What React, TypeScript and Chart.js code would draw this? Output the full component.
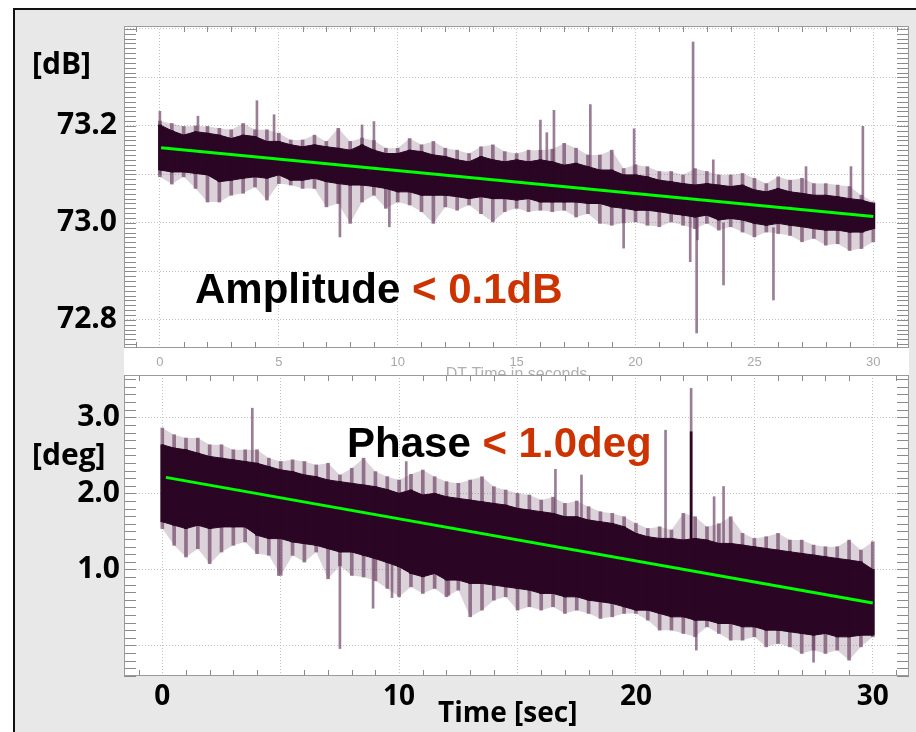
import React, { useEffect, useRef } from 'react';
import { Chart, registerables } from 'chart.js';

Chart.register(...registerables);

// ---------- shared time bins (seconds) ----------
const timeBins = [
  0, 0.5, 1, 1.5, 2, 2.5, 3, 3.5, 4, 4.5, 5, 5.5, 6, 6.5, 7, 7.5, 8, 8.5, 9, 9.5,
  10, 10.5, 11, 11.5, 12, 12.5, 13, 13.5, 14, 14.5, 15, 15.5, 16, 16.5, 17, 17.5, 18, 18.5, 19, 19.5,
  20, 20.5, 21, 21.5, 22, 22.5, 23, 23.5, 24, 24.5, 25, 25.5, 26, 26.5, 27, 27.5, 28, 28.5, 29, 29.5, 30,
];

// ---------- Amplitude [dB] ----------
const ampLightHi = [
  73.210, 73.205, 73.199, 73.200, 73.199, 73.195, 73.192, 73.205, 73.192, 73.192,
  73.185, 73.171, 73.171, 73.181, 73.168, 73.195, 73.168, 73.175, 73.170, 73.154,
  73.154, 73.174, 73.161, 73.168, 73.154, 73.150, 73.143, 73.157, 73.161, 73.147,
  73.143, 73.150, 73.150, 73.152, 73.164, 73.154, 73.140, 73.140, 73.150, 73.112,
  73.120, 73.116, 73.106, 73.106, 73.099, 73.112, 73.106, 73.099, 73.099, 73.102,
  73.092, 73.081, 73.095, 73.088, 73.092, 73.081, 73.081, 73.078, 73.075, 73.057, 73.043,
];
const ampCoreHi = [
  73.202, 73.190, 73.181, 73.188, 73.185, 73.181, 73.174, 73.181, 73.178, 73.168,
  73.168, 73.161, 73.157, 73.161, 73.157, 73.154, 73.150, 73.161, 73.150, 73.143,
  73.143, 73.150, 73.147, 73.140, 73.137, 73.130, 73.126, 73.137, 73.130, 73.126,
  73.130, 73.126, 73.130, 73.126, 73.119, 73.123, 73.116, 73.109, 73.109, 73.099,
  73.099, 73.095, 73.088, 73.085, 73.081, 73.078, 73.081, 73.078, 73.075, 73.078,
  73.068, 73.064, 73.071, 73.064, 73.061, 73.057, 73.057, 73.054, 73.050, 73.047, 73.040,
];
const ampCoreLo = [
  73.109, 73.105, 73.105, 73.102, 73.099, 73.085, 73.088, 73.092, 73.095, 73.092,
  73.099, 73.088, 73.088, 73.092, 73.085, 73.081, 73.078, 73.078, 73.075, 73.071,
  73.064, 73.064, 73.057, 73.057, 73.057, 73.054, 73.050, 73.054, 73.050, 73.050,
  73.047, 73.050, 73.043, 73.043, 73.043, 73.043, 73.040, 73.040, 73.033, 73.030,
  73.026, 73.026, 73.023, 73.019, 73.016, 73.012, 73.016, 73.006, 73.009, 73.006,
  72.999, 72.995, 72.999, 72.995, 72.992, 72.988, 72.985, 72.985, 72.981, 72.981, 72.988,
];
const ampLightLo = [
  73.095, 73.080, 73.095, 73.071, 73.043, 73.043, 73.057, 73.061, 73.074, 73.047,
  73.081, 73.078, 73.071, 73.071, 73.033, 73.040, 72.999, 73.043, 73.057, 73.030,
  73.043, 73.037, 73.023, 72.999, 73.033, 73.026, 73.037, 73.019, 73.002, 73.023,
  73.030, 73.023, 73.026, 73.023, 73.026, 73.012, 73.019, 72.999, 72.995, 73.000,
  73.002, 72.995, 72.992, 73.002, 72.995, 72.988, 72.999, 72.985, 72.992, 72.981,
  72.971, 72.981, 72.978, 72.974, 72.961, 72.968, 72.954, 72.957, 72.943, 72.947, 72.961,
];
const ampSpikeT = [0.0, 1.6, 4.08, 4.8, 7.57, 8.5, 9.0, 9.65, 16.0, 16.27, 16.57, 18.1, 19.5, 19.94, 22.3, 22.42, 22.57, 22.6, 23.27, 23.7, 25.8, 27.17, 29.06, 29.56];
const ampSpikeLo = [73.10, 73.15, 73.12, 73.12, 72.971, 73.12, 73.10, 72.992, 73.10, 73.10, 73.10, 73.10, 72.948, 73.08, 72.920, 73.06, 72.773, 72.965, 73.05, 72.872, 72.841, 73.04, 72.98, 72.98];
const ampSpikeHi = [73.230, 73.220, 73.252, 73.223, 73.080, 73.202, 73.209, 73.070, 73.212, 73.186, 73.232, 73.244, 73.030, 73.194, 73.030, 73.373, 73.040, 73.020, 73.130, 73.000, 72.990, 73.116, 73.116, 73.199];
const ampDarkSpikeT: number[] = [];
const ampDarkSpikeLo: number[] = [];
const ampDarkSpikeHi: number[] = [];
const ampFitT = [0.05, 30];
const ampFit = [73.155, 73.013];
const ampLabelled = [72.8, 73.0, 73.2];

// ---------- Phase [deg] ----------
const phLightHi = [
  2.859, 2.771, 2.727, 2.727, 2.639, 2.639, 2.573, 2.573, 2.573, 2.463,
  2.419, 2.441, 2.419, 2.374, 2.396, 2.242, 2.330, 2.463, 2.286, 2.220,
  2.175, 2.250, 2.307, 2.219, 2.154, 2.132, 2.175, 2.219, 2.088, 2.044,
  2.000, 1.978, 1.912, 1.950, 1.868, 1.900, 1.825, 1.759, 1.737, 1.693,
  1.605, 1.539, 1.561, 1.518, 1.737, 1.693, 1.561, 1.600, 1.693, 1.474,
  1.408, 1.430, 1.474, 1.386, 1.386, 1.320, 1.298, 1.298, 1.386, 1.254, 1.364,
];
const phCoreHi = [
  2.639, 2.595, 2.573, 2.529, 2.485, 2.463, 2.441, 2.419, 2.396, 2.352,
  2.308, 2.286, 2.242, 2.220, 2.176, 2.154, 2.132, 2.110, 2.088, 2.050,
  2.000, 2.044, 1.978, 2.000, 1.956, 1.934, 1.912, 1.890, 1.868, 1.846,
  1.803, 1.781, 1.759, 1.737, 1.693, 1.693, 1.649, 1.627, 1.605, 1.561,
  1.474, 1.430, 1.408, 1.408, 1.386, 1.408, 1.386, 1.342, 1.342, 1.320,
  1.298, 1.276, 1.254, 1.232, 1.211, 1.189, 1.167, 1.145, 1.123, 1.101, 1.000,
];
const phCoreLo = [
  1.626, 1.581, 1.537, 1.581, 1.537, 1.559, 1.559, 1.559, 1.449, 1.405,
  1.405, 1.361, 1.339, 1.317, 1.273, 1.229, 1.229, 1.185, 1.141, 1.090,
  1.035, 0.947, 0.904, 0.947, 0.860, 0.860, 0.816, 0.816, 0.794, 0.772,
  0.750, 0.728, 0.684, 0.684, 0.640, 0.640, 0.596, 0.575, 0.553, 0.509,
  0.465, 0.465, 0.421, 0.377, 0.377, 0.333, 0.333, 0.289, 0.289, 0.246,
  0.246, 0.202, 0.202, 0.180, 0.158, 0.136, 0.158, 0.114, 0.114, 0.136, 0.136,
];
const phLightLo = [
  1.537, 1.317, 1.163, 1.273, 1.075, 1.229, 1.317, 1.361, 1.207, 1.185,
  0.921, 1.185, 1.097, 1.229, 0.877, 1.050, 0.921, 0.900, 0.850, 0.750,
  0.640, 0.772, 0.684, 0.750, 0.640, 0.728, 0.377, 0.465, 0.596, 0.640,
  0.465, 0.509, 0.465, 0.509, 0.421, 0.465, 0.421, 0.355, 0.377, 0.421,
  0.421, 0.333, 0.202, 0.202, 0.158, 0.114, 0.246, 0.158, 0.070, 0.070,
  0.114, -0.018, 0.026, -0.018, -0.105, -0.061, -0.105, -0.061, -0.193, -0.018, 0.114,
];
const phSpikeT = [3.8, 4.9, 7.5, 8.9, 9.7, 10.3, 12.1, 16.6, 17.7, 21.25, 22.33, 22.55, 23.3, 23.7, 27.5];
const phSpikeLo = [2.40, 0.92, -0.04, 0.49, 0.63, 1.90, 0.66, 1.60, 1.60, 1.40, 1.40, -0.06, 1.30, 1.30, -0.22];
const phSpikeHi = [3.12, 1.40, 1.20, 1.20, 1.20, 2.417, 0.90, 2.316, 2.241, 2.83, 3.38, 0.40, 1.956, 2.09, 0.20];
const phDarkSpikeT = [22.33];
const phDarkSpikeLo = [1.40];
const phDarkSpikeHi = [2.81];
const phFitT = [0.15, 30];
const phFit = [2.21, 0.56];
const phLabelled = [1, 2, 3];
const timeLabelled = [0, 10, 20, 30];

// ---------- styling ----------
const DARK = '#2a0624';
const LIGHT = 'rgba(112, 70, 104, 0.7)';
const HAZE = 'rgba(120, 80, 112, 0.26)';
const FIT = '#00ff00';
const GRID = '#c2c2c2';
const LABEL_FONT = '"Open Sans", "Noto Sans", sans-serif';

const bars = (ts: number[], lo: number[], hi: number[]) => ts.map((t, i) => ({ x: t, y: [lo[i], hi[i]] }));
const pts = (ts: number[], v: number[]) => ts.map((t, i) => ({ x: t, y: v[i] }));
const isLabelled = (list: number[], v: number) => list.some((l) => Math.abs(l - v) < 1e-6);

const panelDecor = {
  id: 'panelDecor',
  beforeDraw(chart: any, _a: any, o: any) {
    const { ctx, chartArea: a } = chart;
    ctx.save();
    ctx.fillStyle = '#ffffff';
    const bottom = o.fillToCanvasBottom ? chart.height : a.bottom;
    ctx.fillRect(a.left, a.top, a.right - a.left, bottom - a.top);
    ctx.restore();
  },
  afterDraw(chart: any, _a: any, o: any) {
    const { ctx, chartArea: a, scales } = chart;
    const xs = scales.x;
    const ys = scales.y;
    ctx.save();
    ctx.strokeStyle = '#8a8a8a';
    ctx.lineWidth = 1;
    ctx.beginPath();
    for (let k = Math.ceil(ys.min / o.yStep - 1e-9); k * o.yStep <= ys.max; k++) {
      const py = Math.round(ys.getPixelForValue(k * o.yStep)) + 0.5;
      ctx.moveTo(a.left, py);
      ctx.lineTo(a.left + o.yLen, py);
      ctx.moveTo(a.right, py);
      ctx.lineTo(a.right - o.yLen, py);
    }
    for (let k = Math.ceil(xs.min / o.xStep); k * o.xStep <= xs.max; k++) {
      if (k % 5 === 0) continue;
      const px = Math.round(xs.getPixelForValue(k * o.xStep)) + 0.5;
      ctx.moveTo(px, a.top);
      ctx.lineTo(px, a.top + o.xLen);
      ctx.moveTo(px, a.bottom);
      ctx.lineTo(px, a.bottom - o.xLen);
    }
    ctx.stroke();
    ctx.strokeStyle = '#9a9a9a';
    ctx.strokeRect(a.left + 0.5, a.top + 0.5, a.right - a.left - 1, a.bottom - a.top - 1);
    ctx.restore();
  },
};

function datasets(p: any) {
  const ds: any[] = [
    { type: 'line', data: pts(timeBins, p.lightHi), borderWidth: 0, pointRadius: 0, fill: false, order: 9 },
    { type: 'line', data: pts(timeBins, p.lightLo), borderWidth: 0, pointRadius: 0, fill: '-1', backgroundColor: HAZE, order: 8 },
    { type: 'bar', data: bars(timeBins, p.lightLo, p.lightHi), backgroundColor: LIGHT, barThickness: 3, grouped: false, order: 6, borderWidth: 0 },
    { type: 'bar', data: bars(p.spikeT, p.spikeLo, p.spikeHi), backgroundColor: LIGHT, barThickness: 2, grouped: false, order: 5, borderWidth: 0 },
    { type: 'line', data: pts(timeBins, p.coreHi), borderColor: DARK, borderWidth: 1, pointRadius: 0, fill: false, order: 4 },
    { type: 'line', data: pts(timeBins, p.coreLo), borderColor: DARK, borderWidth: 1, pointRadius: 0, fill: '-1', backgroundColor: DARK, order: 3 },
    { type: 'bar', data: bars(timeBins, p.coreLo, p.coreHi), backgroundColor: DARK, barThickness: 3, grouped: false, order: 2, borderWidth: 0 },
    { type: 'bar', data: bars(p.darkT, p.darkLo, p.darkHi), backgroundColor: DARK, barThickness: 2, grouped: false, order: 1, borderWidth: 0 },
    { type: 'line', data: pts(p.fitT, p.fit), borderColor: FIT, borderWidth: 3, pointRadius: 0, fill: false, order: 0 },
  ];
  return ds;
}

function ampConfig(): any {
  return {
    type: 'bar',
    data: {
      datasets: datasets({
        lightLo: ampLightLo, lightHi: ampLightHi, coreLo: ampCoreLo, coreHi: ampCoreHi,
        spikeT: ampSpikeT, spikeLo: ampSpikeLo, spikeHi: ampSpikeHi,
        darkT: ampDarkSpikeT, darkLo: ampDarkSpikeLo, darkHi: ampDarkSpikeHi,
        fitT: ampFitT, fit: ampFit,
      }),
    },
    plugins: [panelDecor],
    options: {
      animation: false,
      responsive: false,
      events: [],
      layout: { padding: { left: 0, right: 7, top: 26, bottom: 0 } },
      plugins: {
        legend: { display: false },
        tooltip: { enabled: false },
        panelDecor: { yStep: 0.01, yLen: 12, xStep: 1, xLen: 6, fillToCanvasBottom: true },
      },
      scales: {
        x: {
          type: 'linear', min: -1.51, max: 31.5, offset: false,
          grid: { color: GRID, offset: false, drawTicks: false },
          border: { display: false, dash: [1, 2] },
          ticks: {
            stepSize: 5, autoSkip: false, includeBounds: false, maxRotation: 0, padding: 7,
            color: '#a8a8a8', font: { family: '"Liberation Sans", Arial, sans-serif', size: 13 },
            callback: (v: number) => String(v),
          },
          title: {
            display: true, text: 'DT Time in seconds', color: '#b0b0b0',
            font: { family: '"Liberation Sans", Arial, sans-serif', size: 16 },
            padding: { top: 0, bottom: 6 },
          },
          afterFit: (s: any) => { s.height = 42; },
        },
        y: {
          type: 'linear', min: 72.742, max: 73.406, beginAtZero: false,
          grid: { color: GRID, drawTicks: false },
          border: { display: false, dash: [1, 2] },
          ticks: {
            stepSize: 0.1, autoSkip: false, includeBounds: false, padding: 7, color: '#000',
            font: { family: LABEL_FONT, size: 30, weight: 'bold' },
            callback: (v: number) => (isLabelled(ampLabelled, v) ? v.toFixed(1) : ''),
          },
          afterFit: (s: any) => { s.width = 124; },
        },
      },
    },
  };
}

function phConfig(): any {
  return {
    type: 'bar',
    data: {
      datasets: datasets({
        lightLo: phLightLo, lightHi: phLightHi, coreLo: phCoreLo, coreHi: phCoreHi,
        spikeT: phSpikeT, spikeLo: phSpikeLo, spikeHi: phSpikeHi,
        darkT: phDarkSpikeT, darkLo: phDarkSpikeLo, darkHi: phDarkSpikeHi,
        fitT: phFitT, fit: phFit,
      }),
    },
    plugins: [panelDecor],
    options: {
      animation: false,
      responsive: false,
      events: [],
      layout: { padding: { left: 0, right: 7, top: 30, bottom: 0 } },
      plugins: {
        legend: { display: false },
        tooltip: { enabled: false },
        panelDecor: { yStep: 0.1, yLen: 12, xStep: 1, xLen: 6, fillToCanvasBottom: false },
      },
      scales: {
        x: {
          type: 'linear', min: -1.617, max: 31.53, offset: false,
          grid: { color: GRID, offset: false, drawTicks: false },
          border: { display: false, dash: [1, 2] },
          ticks: {
            stepSize: 5, autoSkip: false, includeBounds: false, maxRotation: 0, padding: 4,
            color: '#000', font: { family: LABEL_FONT, size: 28, weight: 'bold' },
            callback: (v: number) => (isLabelled(timeLabelled, v) ? String(v) : ''),
          },
          afterFit: (s: any) => { s.height = 56; },
        },
        y: {
          type: 'linear', min: -0.401, max: 3.556, beginAtZero: false,
          grid: { color: GRID, drawTicks: false },
          border: { display: false, dash: [1, 2] },
          ticks: {
            stepSize: 1, autoSkip: false, includeBounds: false, padding: 4, color: '#000',
            font: { family: LABEL_FONT, size: 30, weight: 'bold' },
            callback: (v: number) => (isLabelled(phLabelled, v) ? v.toFixed(1) : ''),
          },
          afterFit: (s: any) => { s.width = 124; },
        },
      },
    },
  };
}

const textBase: React.CSSProperties = { position: 'absolute', whiteSpace: 'nowrap', fontWeight: 'bold', margin: 0 };

export default function App() {
  const ampRef = useRef<HTMLCanvasElement>(null);
  const phRef = useRef<HTMLCanvasElement>(null);

  useEffect(() => {
    const c1 = new Chart(ampRef.current as HTMLCanvasElement, ampConfig());
    const c2 = new Chart(phRef.current as HTMLCanvasElement, phConfig());
    return () => {
      c1.destroy();
      c2.destroy();
    };
  }, []);

  const sans30: React.CSSProperties = { ...textBase, fontFamily: LABEL_FONT, fontSize: 30, lineHeight: '30px', color: '#000' };
  const big: React.CSSProperties = { ...textBase, fontFamily: '"Liberation Sans", Arial, sans-serif', fontSize: 42, lineHeight: '42px', color: '#000' };
  const red = '#cc3300';

  return (
    <div style={{ position: 'fixed', left: 0, top: 0, width: 916, height: 732, background: '#ffffff', overflow: 'hidden' }}>
      <div style={{ position: 'absolute', left: 13, top: 8, width: 903, height: 724, background: '#e8e8e8', borderLeft: '2px solid #111', borderTop: '2px solid #111', boxSizing: 'border-box' }} />
      <canvas ref={ampRef} width={916} height={390} style={{ position: 'absolute', left: 0, top: 0 }} />
      <canvas ref={phRef} width={916} height={387} style={{ position: 'absolute', left: 0, top: 345 }} />
      <div style={{ ...sans30, left: 32, top: 48 }}>[dB]</div>
      <div style={{ ...sans30, left: 32, top: 439 }}>[deg]</div>
      <div style={{ ...big, left: 195, top: 268 }}>
        Amplitude <span style={{ color: red }}>{'< 0.1dB'}</span>
      </div>
      <div style={{ ...big, left: 347, top: 422 }}>
        Phase <span style={{ color: red }}>{'< 1.0deg'}</span>
      </div>
      <div style={{ ...sans30, fontSize: 28, lineHeight: '28px', left: 438, top: 697 }}>Time [sec]</div>
    </div>
  );
}
